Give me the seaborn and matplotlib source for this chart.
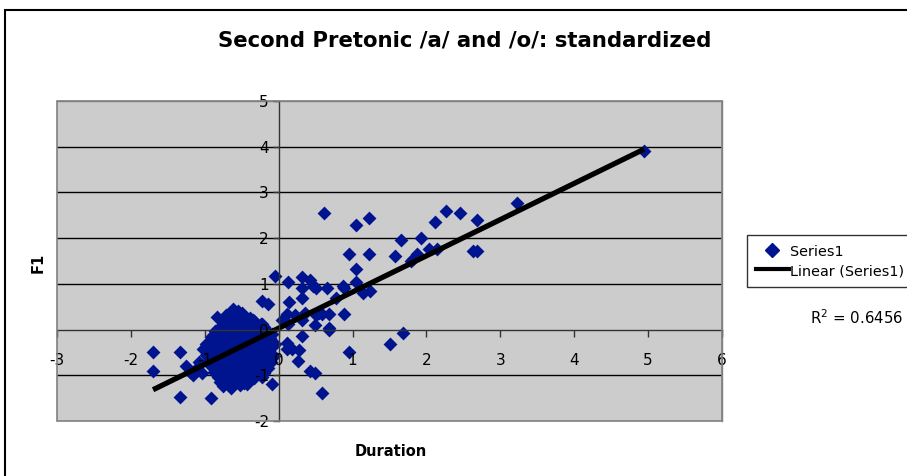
import matplotlib
matplotlib.use("Agg")
import matplotlib.pyplot as plt
from matplotlib.lines import Line2D
from matplotlib.patches import Rectangle
import numpy as np
import pandas as pd
import seaborn as sns

# ---------------- data ----------------
# dense cluster left of the origin
cluster_x = [-0.62, -0.55, -0.50,
             -0.84, -0.71, -0.60, -0.47, -0.39,
             -0.76, -0.66, -0.57, -0.49, -0.41, -0.33, -0.24,
             -0.80, -0.71, -0.63, -0.54, -0.46, -0.37, -0.29, -0.20,
             -0.86, -0.77, -0.68, -0.59, -0.51, -0.43, -0.34, -0.26, -0.17, -0.09,
             -0.92, -0.81, -0.72, -0.64, -0.55, -0.47, -0.38, -0.30, -0.21, -0.12,
             -0.98, -0.88, -0.79, -0.70, -0.61, -0.52, -0.44, -0.35, -0.26, -0.16, -0.05,
             -0.94, -0.85, -0.75, -0.66, -0.57, -0.48, -0.39, -0.30, -0.21, -0.12,
             -0.99, -0.89, -0.80, -0.71, -0.62, -0.52, -0.43, -0.34, -0.24, -0.15, -0.06,
             -0.96, -0.86, -0.76, -0.67, -0.57, -0.48, -0.38, -0.28, -0.19, -0.10,
             -0.91, -0.82, -0.72, -0.63, -0.54, -0.45, -0.35, -0.25, -0.14,
             -0.87, -0.78, -0.69, -0.60, -0.50, -0.41, -0.31, -0.20,
             -0.82, -0.72, -0.63, -0.53, -0.44, -0.33, -0.22,
             -0.79, -0.68, -0.57, -0.47,
             -0.76, -0.64, -0.52]
cluster_y = [0.45, 0.40, 0.36,
             0.27, 0.31, 0.28, 0.30, 0.25,
             0.18, 0.21, 0.16, 0.22, 0.15, 0.19, 0.12,
             0.06, 0.10, 0.04, 0.09, 0.03, 0.07, 0.02, 0.05,
             -0.04, -0.08, -0.02, -0.06, -0.01, -0.09, -0.03, -0.07, -0.02, -0.10,
             -0.17, -0.21, -0.15, -0.19, -0.14, -0.22, -0.16, -0.20, -0.13, -0.18,
             -0.31, -0.27, -0.33, -0.28, -0.32, -0.26, -0.34, -0.29, -0.35, -0.30, -0.31,
             -0.45, -0.40, -0.46, -0.41, -0.44, -0.39, -0.47, -0.42, -0.46, -0.40,
             -0.56, -0.52, -0.58, -0.53, -0.57, -0.51, -0.59, -0.54, -0.57, -0.52, -0.58,
             -0.68, -0.64, -0.70, -0.65, -0.69, -0.63, -0.71, -0.66, -0.62, -0.70,
             -0.79, -0.83, -0.77, -0.82, -0.78, -0.84, -0.80, -0.76, -0.83,
             -0.93, -0.89, -0.95, -0.90, -0.94, -0.88, -0.92, -0.95,
             -1.03, -1.07, -1.01, -1.05, -1.02, -1.06, -1.03,
             -1.14, -1.18, -1.13, -1.17,
             -1.24, -1.27, -1.22]

# scattered points outside the cluster
outer_x = [-1.70, -1.70, -1.34, -1.34, -0.91,
           -1.25, -1.16, -1.04, -1.10, -1.03, -0.97, -1.20, -1.08,
           -0.43, -0.09, -0.14, -0.22, -0.15, -0.05, -0.35, -0.22, -0.12,
           0.05, 0.12, 0.11, 0.11, 0.22, 0.31, 0.35, 0.50, 0.55, 0.58, 0.68, 0.88,
           0.11, 0.18, 0.28, 0.26, 0.42, 0.49, 0.58, 0.31, 0.49, 0.68, 0.68,
           0.95, 1.50, 1.68,
           0.12, 0.14, 0.31, 0.32, 0.32, 0.42, 0.46, 0.50, 0.66, 0.78,
           0.87, 0.88, 1.04, 1.14, 1.23, 1.04, 0.95, 1.22, 1.04, 1.22, 0.62,
           1.65, 1.57, 1.93, 1.79, 1.87, 1.82, 2.03, 2.14, 2.12, 2.26, 2.46,
           2.69, 2.63, 2.68, 3.22, 4.95]
outer_y = [-0.48, -0.90, -0.50, -1.47, -1.49,
           -0.79, -1.00, -0.96, -0.85, -0.42, -0.50, -0.92, -0.70,
           -1.18, -1.20, -0.60, 0.63, 0.57, 1.18, 0.20, 0.13, -0.31,
           0.20, 0.13, 0.35, -0.30, 0.31, 0.20, 0.37, 0.31, 0.37, 0.35, 0.35, 0.35,
           -0.42, -0.42, -0.44, -0.68, -0.90, -0.94, -1.38, -0.15, 0.09, -0.02, 0.04,
           -0.48, -0.31, -0.08,
           1.03, 0.61, 1.14, 0.92, 0.68, 1.09, 0.96, 0.92, 0.92, 0.68,
           0.96, 0.92, 1.05, 0.79, 0.85, 1.33, 1.66, 1.66, 2.28, 2.43, 2.56,
           1.95, 1.60, 2.01, 1.49, 1.66, 1.55, 1.77, 1.77, 2.36, 2.60, 2.56,
           2.39, 1.71, 1.71, 2.76, 3.90]

title = "Second Pretonic /a/ and /o/: standardized"
x_label = "Duration"
y_label = "F1"
x_ticks = [-3, -2, -1, 0, 1, 2, 3, 4, 5, 6]
y_ticks = [-2, -1, 0, 1, 2, 3, 4, 5]
grid_levels = [-1, 1, 2, 3, 4]
r2_text = r"R$^2$ = 0.6456"

df = pd.DataFrame({"Duration": cluster_x + outer_x, "F1": cluster_y + outer_y})

# ---------------- figure ----------------
navy = "#00148F"
plt.rcParams['font.family'] = ['DejaVu Sans']
W, H = 907, 476
fig = plt.figure(figsize=(W / 100, H / 100), dpi=100)
fig.patch.set_facecolor("white")

ax = fig.add_axes([57 / W, 1 - 421 / H, 665 / W, 320 / H])
ax.set_facecolor("#CCCCCC")
ax.set_axisbelow(False)

for v in grid_levels:
    ax.axhline(v, color="black", lw=1.0, zorder=0.5)

sns.scatterplot(data=df, x="Duration", y="F1", marker="D", s=50, color=navy,
                edgecolor=navy, linewidth=0, ax=ax, zorder=2)
sns.regplot(data=df, x="Duration", y="F1", scatter=False, ci=None, truncate=True,
            line_kws=dict(color="black", lw=3.8, solid_capstyle="butt", zorder=2.2), ax=ax)

ax.set_xlim(-3, 6)
ax.set_ylim(-2, 5)
ax.set_xticks(x_ticks)
ax.set_yticks(y_ticks)
ax.set_xticklabels([str(t) for t in x_ticks])
ax.set_yticklabels([str(t) for t in y_ticks])
ax.set_xlabel("")
ax.set_ylabel("")

ax.spines["left"].set_position(("data", 0))
ax.spines["bottom"].set_position(("data", 0))
for s in ("left", "bottom"):
    ax.spines[s].set_color("#333333")
    ax.spines[s].set_linewidth(1.0)
for s in ("top", "right"):
    ax.spines[s].set_color("#808080")
    ax.spines[s].set_linewidth(1.0)
ax.add_patch(Rectangle((0, 0), 1, 1, transform=ax.transAxes, fill=False,
                       edgecolor="#808080", lw=1.2, zorder=5, clip_on=False))

ax.tick_params(axis="x", direction="out", length=5, width=1, pad=12,
               labelsize=11, color="#333333")
ax.tick_params(axis="y", direction="out", length=4, width=1, pad=3,
               labelsize=11, color="#333333")

# titles and labels
fig.text(465 / W, 1 - 40 / H, title, ha="center", va="center",
         fontsize=15.3, fontweight="bold")
fig.text(391 / W, 1 - 452 / H, x_label, ha="center", va="center",
         fontsize=10.5, fontweight="bold")
fig.text(38 / W, 1 - 263 / H, y_label, ha="center", va="center",
         fontsize=10.5, fontweight="bold", rotation=90)

# legend
handles = [Line2D([], [], marker="D", color=navy, linestyle="none", markersize=7),
           Line2D([], [], color="black", lw=3)]
leg = fig.legend(handles, ["Series1", "Linear (Series1)"], loc="upper left",
                 bbox_to_anchor=(747 / W, 1 - 235 / H), frameon=True, fancybox=False,
                 edgecolor="black", fontsize=10.4, handlelength=2.3, handleheight=1.25,
                 handletextpad=0.1, borderpad=0.6, labelspacing=0.25, borderaxespad=0)
leg.get_frame().set_linewidth(1.0)

fig.text(810 / W, 1 - 318 / H, r2_text, ha="left", va="center", fontsize=10.8)

# chart-area border
fig.patches.append(Rectangle((5 / W, -0.05), 1.2, 1 - 10 / H + 0.05,
                             transform=fig.transFigure, fill=False,
                             edgecolor="black", lw=1.5))

fig.savefig("out.png", dpi=100)
